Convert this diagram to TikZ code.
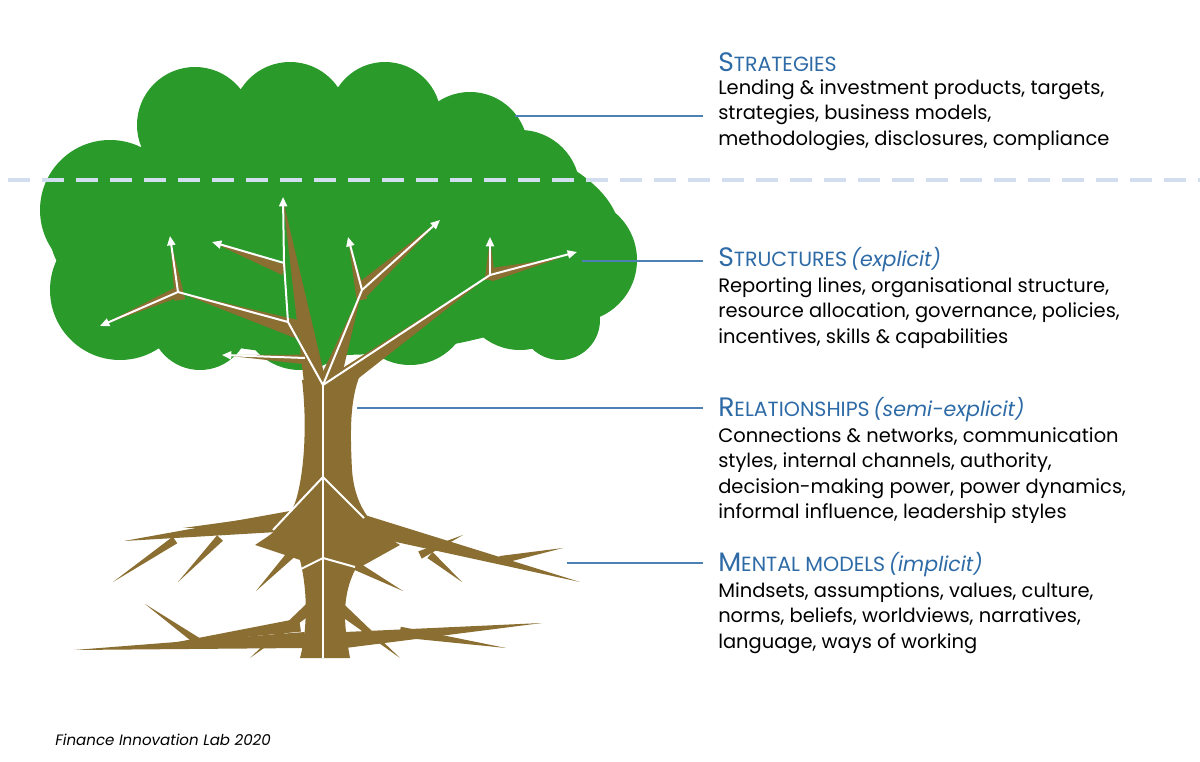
\documentclass[tikz,border=0pt]{standalone}
\usepackage{fontspec}
\setmainfont{Poppins}
\usetikzlibrary{calc,arrows.meta}
\definecolor{leaf}{HTML}{2A9A2A}
\definecolor{bark}{HTML}{8B6E32}
\definecolor{head}{HTML}{2E6BA6}
\definecolor{dashcol}{HTML}{D2DDF0}
\newcommand\taper[3]{\fill[bark] ($#1!#3!90:#2$) -- #2 -- ($#1!#3!-90:#2$) -- cycle;}
\newcommand\hd[2]{{\fontsize{20}{19}\selectfont #1}{\fontsize{15.4}{19}\selectfont\MakeUppercase{#2}}}
\tikzset{
 body/.style={anchor=north west,align=left,font=\fontsize{14.6}{19.2}\selectfont,inner sep=0pt},
 heading/.style={anchor=west,text=head,inner sep=0pt},
 lead/.style={draw=head!85!white,line width=0.8pt},
 wa/.style={draw=white,line width=1.5pt,-{Triangle[width=6pt,length=7pt]}},
 wl/.style={draw=white,line width=1.5pt}
}
\begin{document}
\begin{tikzpicture}[x=0.75pt,y=-0.75pt]
\useasboundingbox (0,0) rectangle (1200,762);
% canopy
\fill[leaf] (335,235) ellipse [x radius=285,y radius=120];
\foreach \x/\y/\r in {195/125/58,290/120/58,385/118/56,470/150/58,520/190/60,110/210/70,575/260/62,120/290/70,200/320/50,300/310/60,410/305/60,520/290/60,560/320/40}
  \fill[leaf] (\x,\y) circle [radius=\r];
% dashed line
\draw[dashcol,line width=3.2pt,dash pattern=on 16.5pt off 9pt] (8,180) -- (1200,180);
% trunk
\fill[bark] (302,380) .. controls (307,420) and (305,470) .. (296,500) .. controls (288,525) and (270,535) .. (255,545)
 -- (300,560) .. controls (310,600) and (305,640) .. (300,658) -- (350,658) .. controls (345,630) and (340,600) .. (355,570)
 -- (400,545) .. controls (375,530) and (355,510) .. (352,470) .. controls (350,430) and (350,400) .. (360,375) -- cycle;
% branches (brown)
\taper{(318,400)}{(283,200)}{9pt}
\taper{(300,330)}{(178,292)}{7pt}
\taper{(178,292)}{(100,326)}{4pt}
\taper{(180,300)}{(170,238)}{4pt}
\taper{(284,270)}{(212,242)}{4pt}
\taper{(325,395)}{(362,290)}{9pt}
\taper{(362,290)}{(440,220)}{6pt}
\taper{(362,300)}{(348,238)}{4pt}
\taper{(320,395)}{(490,275)}{8pt}
\taper{(490,275)}{(560,258)}{5pt}
\taper{(490,280)}{(490,238)}{4pt}
\taper{(315,360)}{(222,355)}{4pt}
% roots
\taper{(300,520)}{(124,541)}{8pt}
\taper{(290,520)}{(183,528)}{5pt}
\taper{(175,540)}{(113,582)}{3pt}
\taper{(220,538)}{(178,582)}{3pt}
\taper{(300,545)}{(256,591)}{4pt}
\taper{(305,640)}{(74,650)}{6pt}
\taper{(200,643)}{(145,604)}{3pt}
\taper{(300,625)}{(162,645)}{5pt}
\taper{(345,520)}{(580,582)}{8pt}
\taper{(500,560)}{(563,548)}{3pt}
\taper{(420,555)}{(463,535)}{3pt}
\taper{(430,555)}{(462,582)}{3pt}
\taper{(345,560)}{(403,591)}{4pt}
\taper{(345,640)}{(542,623)}{6pt}
\taper{(400,632)}{(506,648)}{4pt}
\taper{(320,600)}{(250,658)}{5pt}
\taper{(330,600)}{(400,658)}{5pt}
% white structure lines
\coordinate (f) at (323,385);
\coordinate (a1) at (288,322); \coordinate (a2) at (284,263); \coordinate (a3) at (178,292);
\coordinate (b1) at (362,290); \coordinate (c1) at (490,275);
\draw[wl] (f) -- (a1) -- (a2); \draw[wa] (a2) -- (283,197);
\draw[wl] (a1) -- (a3); \draw[wa] (a3) -- (170,236); \draw[wa] (a3) -- (100,326);
\draw[wa] (a2) -- (212,242);
\draw[wl] (f) -- (b1); \draw[wa] (b1) -- (348,237); \draw[wa] (b1) -- (440,220);
\draw[wl] (f) -- (c1); \draw[wa] (c1) -- (490,237); \draw[wa] (c1) -- (577,252);
\draw[wa] (305,358) -- (222,355);
\draw[wl] (f) -- (323,658);
\draw[wl] (273,530) -- (323,477) -- (364,518);
\draw[wl] (299,570) -- (323,558) -- (355,567);
% leader lines
\draw[lead] (515,116) -- (703,116);
\draw[lead] (582,261) -- (703,261);
\draw[lead] (357,408) -- (703,408);
\draw[lead] (567,563) -- (703,563);
% texts
\node[heading] (h1) at (718,62) {\hd{S}{trategies}};
\node[body] (t1) at (718,79) {Lending \& investment products, targets,\\strategies, business models,\\methodologies, disclosures, compliance};
\node[heading] (h2) at (718,260) {\hd{S}{tructures} {\fontsize{15.4}{19}\selectfont\itshape (explicit)}};
\node[body] (t2) at (718,277) {Reporting lines, organisational structure,\\resource allocation, governance, policies,\\incentives, skills \& capabilities};
\node[heading] (h3) at (718,410) {\hd{R}{elationships} {\fontsize{15.4}{19}\selectfont\itshape (semi-explicit)}};
\node[body] (t3) at (718,427) {Connections \& networks, communication\\styles, internal channels, authority,\\decision-making power, power dynamics,\\informal influence, leadership styles};
\node[heading] (h4) at (718,565) {\hd{M}{ental models} {\fontsize{15.4}{19}\selectfont\itshape (implicit)}};
\node[body] (t4) at (718,582) {Mindsets, assumptions, values, culture,\\norms, beliefs, worldviews, narratives,\\language, ways of working};
\node[anchor=west,inner sep=0pt,font=\fontsize{11.3}{13}\selectfont\itshape] (ft) at (55,740) {Finance Innovation Lab 2020};
\end{tikzpicture}
\end{document}
